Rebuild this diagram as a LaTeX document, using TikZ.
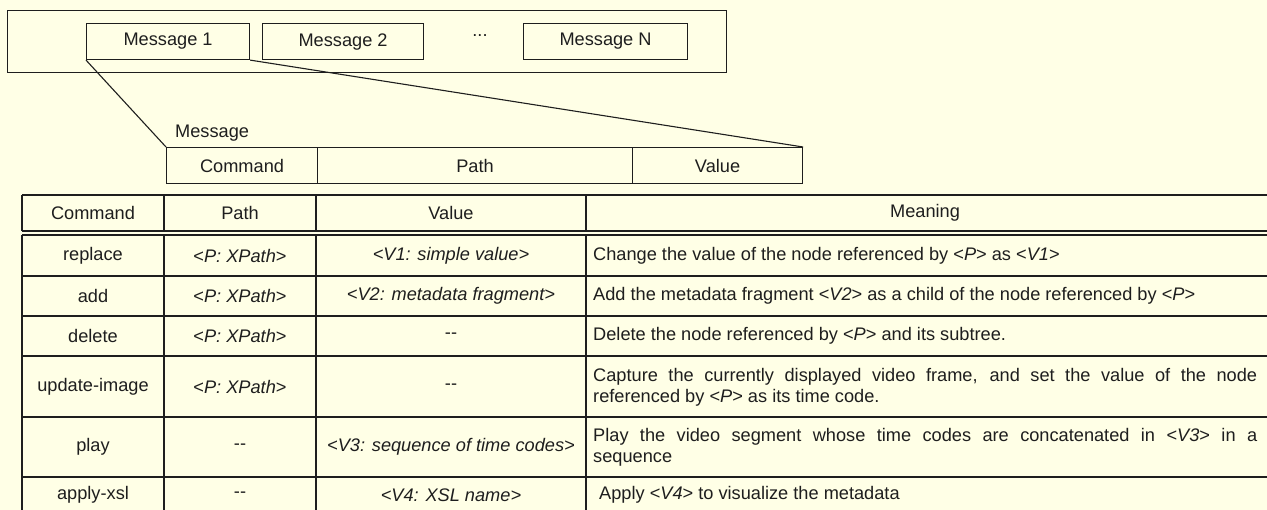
\documentclass[tikz,border=0pt]{standalone}
\usepackage{fontspec}
\setmainfont{Liberation Sans}
\definecolor{bg}{RGB}{255,255,230}
\definecolor{ln}{RGB}{30,30,30}
\newcommand{\dd}{{-}{-}}
\begin{document}
\begin{tikzpicture}[x=1pt,y=-1pt,
  fnt/.style={font=\fontsize{18.2}{21}\selectfont},
  box/.style={draw=ln, line width=1.1pt, inner sep=0pt, fnt, text=ln, anchor=north west},
  txt/.style={inner sep=0pt, fnt, text=ln},
  conn/.style={draw=ln, line width=1.1pt},
  grid/.style={draw=ln, line width=1.3pt},
  mean/.style={txt, anchor=west, text width=664pt, align=justify,
    execute at begin node={\hyphenpenalty=10000\exhyphenpenalty=10000}}]
\fill[bg] (0,0) rectangle (1267,510);
\useasboundingbox (0,0) rectangle (1267,510);

% message stream
\node[box, minimum width=719pt, minimum height=62pt] (stream) at (7,10) {};
\node[box, minimum width=163pt, minimum height=36pt] (m1) at (86,23) {Message 1};
\node[box, minimum width=161pt, minimum height=36pt] (m2) at (262,23) {Message 2};
\node[txt, anchor=base] (dots) at (480,37) {...};
\node[box, minimum width=164pt, minimum height=36pt] (mn) at (523,23) {Message N};

% message structure
\node[txt, anchor=west] (mlabel) at (175,133) {Message};
\node[box, minimum width=151pt, minimum height=36pt] (mc) at (166,147) {Command};
\node[box, minimum width=315pt, minimum height=36pt] (mp) at (317,147) {Path};
\node[box, minimum width=170pt, minimum height=36pt] (mv) at (632,147) {Value};
\draw[conn] (m1.south west) -- (mc.north west);
\draw[conn] (m1.south east) -- (mv.north east);

% command table grid
\foreach \y in {195,231,235,276,316,356,417,477} \draw[grid] (22,\y) -- (1267,\y);
\foreach \x in {22,164,316,586} {\draw[grid] (\x,195) -- (\x,231); \draw[grid] (\x,235) -- (\x,510);}

% header
\node[txt] (hc) at (93,213) {Command};
\node[txt] (hp) at (240,213) {Path};
\node[txt] (hv) at (451,213) {Value};
\node[txt] (hm) at (925,213) {Meaning};

% replace
\node[txt] (c1) at (93,255.5) {replace};
\node[txt] (p1) at (240,255.5) {<\textit{P: XPath}>};
\node[txt] (v1) at (451,255.5) {\textit{<V1: simple value>}};
\node[mean] (d1) at (593,255.5) {Change the value of the node referenced by <\textit{P}> as <\textit{V1}>};
% add
\node[txt] (c2) at (93,296) {add};
\node[txt] (p2) at (240,296) {<\textit{P: XPath}>};
\node[txt] (v2) at (451,296) {\textit{<V2: metadata fragment>}};
\node[mean] (d2) at (593,296) {Add the metadata fragment <\textit{V2}> as a child of the node referenced by <\textit{P}>};
% delete
\node[txt] (c3) at (93,336) {delete};
\node[txt] (p3) at (240,336) {<\textit{P: XPath}>};
\node[txt] (v3) at (451,336) {\dd};
\node[mean] (d3) at (593,336) {Delete the node referenced by <\textit{P}> and its subtree.};
% update-image
\node[txt] (c4) at (93,386.5) {update-image};
\node[txt] (p4) at (240,386.5) {<\textit{P: XPath}>};
\node[txt] (v4) at (451,386.5) {\dd};
\node[mean] (d4) at (593,387.5) {Capture the currently displayed video frame, and set the value of the node\linebreak referenced by <\textit{P}> as its time code.};
% play
\node[txt] (c5) at (93,447) {play};
\node[txt] (p5) at (240,447) {\dd};
\node[txt] (v5) at (451,447) {\textit{<V3: sequence of time codes>}};
\node[mean] (d5) at (593,447.5) {Play the video segment whose time codes are concatenated in <\textit{V3}> in a\linebreak sequence};
% apply-xsl
\node[txt] (c6) at (93,495) {apply-xsl};
\node[txt] (p6) at (240,495) {\dd};
\node[txt] (v6) at (451,495) {\textit{<V4: XSL name>}};
\node[txt, anchor=west] (d6) at (599,495) {Apply <\textit{V4}> to visualize the metadata};
\end{tikzpicture}
\end{document}
